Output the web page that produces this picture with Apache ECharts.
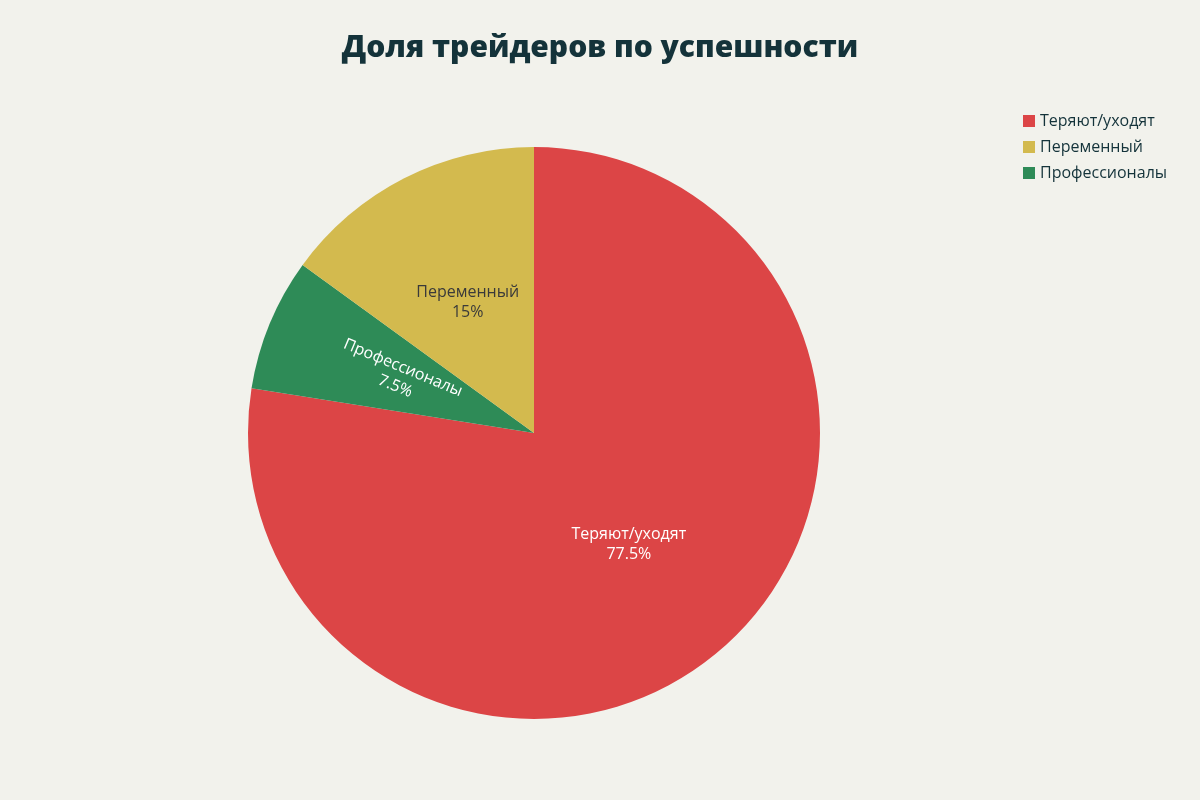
<!DOCTYPE html>
<html>
<head>
<meta charset="utf-8">
<script src="https://cdn.jsdelivr.net/npm/echarts@6/dist/echarts.min.js"></script>
<style>
  html, body { margin: 0; padding: 0; background: #f2f2ec; }
  #chart { width: 1200px; height: 800px; }
</style>
</head>
<body>
<div id="chart"></div>
<script>
// Данные диаграммы (по часовой стрелке от 12 часов)
const sliceNames = ['Теряют/уходят', 'Профессионалы', 'Переменный'];
const sliceValues = [77.5, 7.5, 15];
const sliceColors = ['#dc4546', '#2e8b57', '#d3ba4e'];
const legendOrder = ['Теряют/уходят', 'Переменный', 'Профессионалы'];

const chart = echarts.init(document.getElementById('chart'));
chart.setOption({
  backgroundColor: '#f2f2ec',
  title: {
    text: 'Доля трейдеров по успешности',
    left: 'center',
    top: 28,
    textStyle: { fontFamily: 'Open Sans', fontWeight: 900, fontSize: 30, color: '#14333a' },
  },
  legend: {
    data: legendOrder,
    orient: 'vertical',
    left: 1018,
    top: 108,
    icon: 'rect',
    itemWidth: 12,
    itemHeight: 12,
    itemGap: 10,
    textStyle: { fontFamily: 'Open Sans', fontSize: 16, color: '#14333a' },
  },
  series: [{
    type: 'pie',
    center: [534, 433],
    radius: 286,
    startAngle: 90,
    clockwise: true,
    animation: false,
    label: {
      position: 'inside',
      fontFamily: 'Open Sans',
      fontSize: 16,
      color: '#ffffff',
      lineHeight: 20,
      formatter: p => p.name + '\n' + p.value + '%',
    },
    labelLine: { show: false },
    data: sliceNames.map((n, i) => {
      const item = { name: n, value: sliceValues[i], itemStyle: { color: sliceColors[i] } };
      if (n === 'Переменный') item.label = { color: '#3a3a3a' };
      if (n === 'Профессионалы') item.label = { rotate: 'radial' };
      return item;
    }),
  }],
});
</script>
</body>
</html>
